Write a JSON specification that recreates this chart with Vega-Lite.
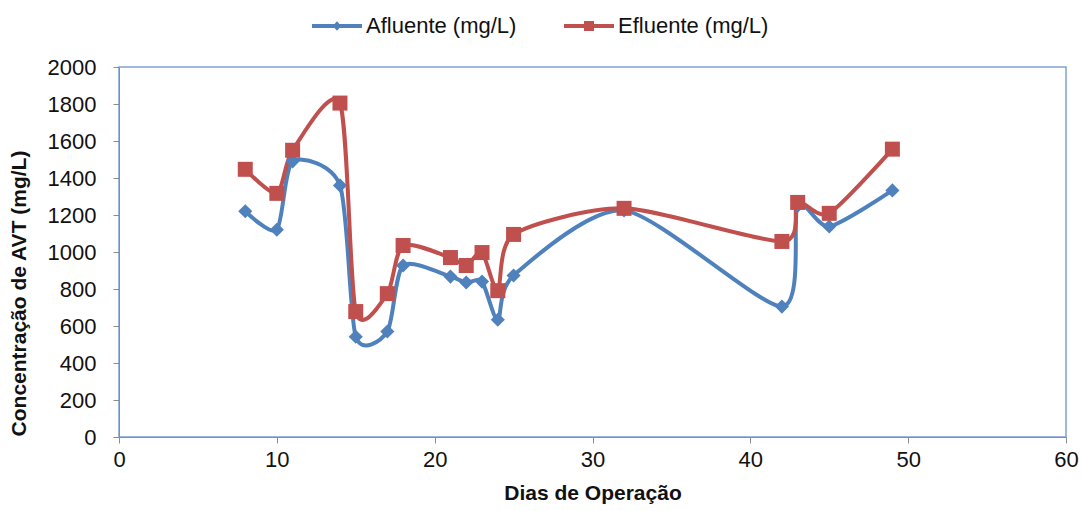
{
  "$schema": "https://vega.github.io/schema/vega-lite/v6.json",
  "width": 947,
  "height": 370,
  "autosize": "none",
  "padding": {"left": 119, "top": 67, "right": 15, "bottom": 74},
  "background": "white",
  "config": {
    "font": "Liberation Sans",
    "view": {"stroke": "#7FA3D3", "strokeWidth": 1.5},
    "axis": {
      "grid": false,
      "domainColor": "#8c8c8c",
      "tickColor": "#8c8c8c",
      "tickSize": 6,
      "labelFont": "Liberation Sans",
      "labelFontSize": 22,
      "labelColor": "#111",
      "titleFont": "Liberation Sans",
      "titleFontSize": 21,
      "titleFontWeight": "bold",
      "titleColor": "#111"
    }
  },
  "data": {
    "values": [
      {"dia": 8, "serie": "Afluente (mg/L)", "valor": 1220},
      {"dia": 10, "serie": "Afluente (mg/L)", "valor": 1120},
      {"dia": 11, "serie": "Afluente (mg/L)", "valor": 1490},
      {"dia": 14, "serie": "Afluente (mg/L)", "valor": 1360},
      {"dia": 15, "serie": "Afluente (mg/L)", "valor": 542},
      {"dia": 17, "serie": "Afluente (mg/L)", "valor": 570},
      {"dia": 18, "serie": "Afluente (mg/L)", "valor": 927},
      {"dia": 21, "serie": "Afluente (mg/L)", "valor": 867},
      {"dia": 22, "serie": "Afluente (mg/L)", "valor": 835},
      {"dia": 23, "serie": "Afluente (mg/L)", "valor": 840},
      {"dia": 24, "serie": "Afluente (mg/L)", "valor": 634},
      {"dia": 25, "serie": "Afluente (mg/L)", "valor": 873},
      {"dia": 32, "serie": "Afluente (mg/L)", "valor": 1225},
      {"dia": 42, "serie": "Afluente (mg/L)", "valor": 705},
      {"dia": 43, "serie": "Afluente (mg/L)", "valor": 1250},
      {"dia": 45, "serie": "Afluente (mg/L)", "valor": 1138},
      {"dia": 49, "serie": "Afluente (mg/L)", "valor": 1333},
      {"dia": 8, "serie": "Efluente (mg/L)", "valor": 1447},
      {"dia": 10, "serie": "Efluente (mg/L)", "valor": 1317},
      {"dia": 11, "serie": "Efluente (mg/L)", "valor": 1550},
      {"dia": 14, "serie": "Efluente (mg/L)", "valor": 1805},
      {"dia": 15, "serie": "Efluente (mg/L)", "valor": 678},
      {"dia": 17, "serie": "Efluente (mg/L)", "valor": 775},
      {"dia": 18, "serie": "Efluente (mg/L)", "valor": 1035},
      {"dia": 21, "serie": "Efluente (mg/L)", "valor": 970},
      {"dia": 22, "serie": "Efluente (mg/L)", "valor": 927},
      {"dia": 23, "serie": "Efluente (mg/L)", "valor": 997},
      {"dia": 24, "serie": "Efluente (mg/L)", "valor": 791},
      {"dia": 25, "serie": "Efluente (mg/L)", "valor": 1095},
      {"dia": 32, "serie": "Efluente (mg/L)", "valor": 1236},
      {"dia": 42, "serie": "Efluente (mg/L)", "valor": 1057},
      {"dia": 43, "serie": "Efluente (mg/L)", "valor": 1268},
      {"dia": 45, "serie": "Efluente (mg/L)", "valor": 1209},
      {"dia": 49, "serie": "Efluente (mg/L)", "valor": 1556}
    ]
  },
  "encoding": {
    "x": {
      "field": "dia", "type": "quantitative",
      "scale": {"domain": [0, 60], "nice": false},
      "axis": {"values": [0, 10, 20, 30, 40, 50, 60], "labelFlush": false, "title": "Dias de Operação", "titlePadding": 12, "labelPadding": 6}
    },
    "y": {
      "field": "valor", "type": "quantitative",
      "scale": {"domain": [0, 2000], "nice": false},
      "axis": {"values": [0, 200, 400, 600, 800, 1000, 1200, 1400, 1600, 1800, 2000], "labelFlush": false, "format": "d", "title": "Concentração  de AVT (mg/L)", "titlePadding": 18, "titleY": 226, "labelPadding": 17}
    },
    "color": {
      "field": "serie", "type": "nominal",
      "scale": {"domain": ["Afluente (mg/L)", "Efluente (mg/L)"], "range": ["#4F81BD", "#C0504D"]},
      "legend": {
        "title": null,
        "orient": "none",
        "legendX": 193,
        "legendY": -66,
        "padding": 0,
        "direction": "horizontal",
        "labelFontSize": 22,
        "labelFont": "Liberation Sans",
        "labelColor": "#111",
        "symbolSize": 2500,
        "labelOffset": 4,
        "columnPadding": 47,
        "symbolStrokeWidth": 0,
        "encode": {
          "symbols": {
            "update": {
              "shape": {"signal": "datum.value === 'Afluente (mg/L)' ? 'M-1,-0.08H1V0.08H-1Z M0,-0.19L0.17,0L0,0.19L-0.17,0Z' : 'M-1,-0.08H1V0.08H-1Z M-0.2,-0.2H0.2V0.2H-0.2Z'"},
              "fill": {"signal": "datum.value === 'Afluente (mg/L)' ? '#4F81BD' : '#C0504D'"},
              "fillOpacity": {"value": 1},
              "opacity": {"value": 1},
              "strokeWidth": {"value": 0}
            }
          }
        }
      }
    }
  },
  "layer": [
    {
      "mark": {"type": "line", "interpolate": "cardinal", "tension": 0.25, "strokeWidth": 4}
    },
    {
      "transform": [{"filter": "datum.serie === 'Afluente (mg/L)'"}],
      "mark": {"type": "point", "filled": true, "opacity": 1, "shape": "diamond", "size": 200}
    },
    {
      "transform": [{"filter": "datum.serie === 'Efluente (mg/L)'"}],
      "mark": {"type": "point", "filled": true, "opacity": 1, "shape": "square", "size": 225}
    }
  ]
}
